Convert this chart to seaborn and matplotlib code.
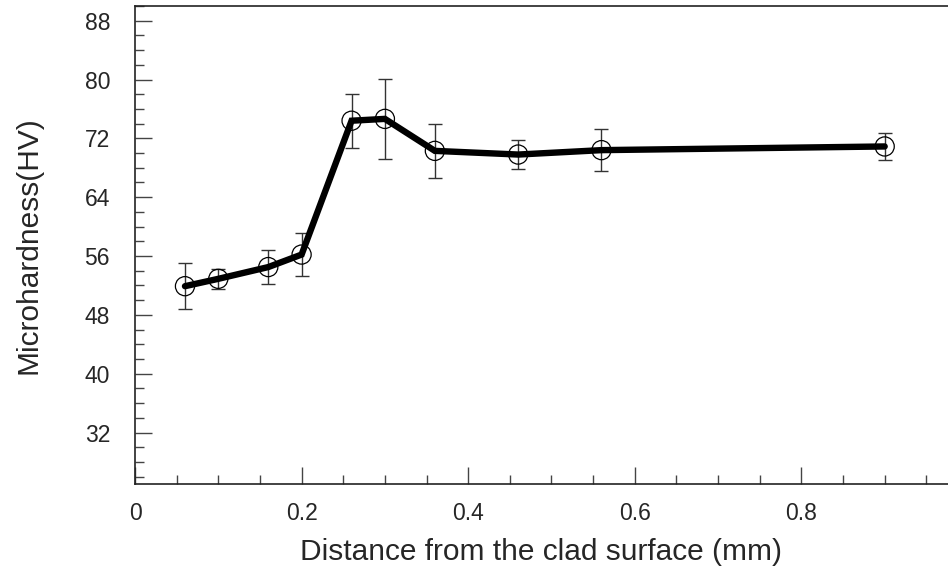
import matplotlib
matplotlib.use("Agg")
import matplotlib.pyplot as plt
import seaborn as sns
import pandas as pd
from matplotlib.ticker import MultipleLocator

distance = [0.06, 0.10, 0.16, 0.20, 0.26, 0.30, 0.36, 0.46, 0.56, 0.90]
hardness = [51.9, 52.9, 54.5, 56.2, 74.4, 74.65, 70.3, 69.8, 70.4, 70.9]
err = [3.15, 1.4, 2.3, 2.9, 3.7, 5.4, 3.7, 2.0, 2.85, 1.8]

x_ticks = [0, 0.2, 0.4, 0.6, 0.8]
x_ticklabels = ["0", "0.2", "0.4", "0.6", "0.8"]
y_ticks = [32, 40, 48, 56, 64, 72, 80, 88]
y_ticklabels = ["32", "40", "48", "56", "64", "72", "80", "88"]

df = pd.DataFrame({"distance": distance, "hardness": hardness, "err": err})

sns.set_style("white")
plt.rcParams["font.family"] = ["Liberation Sans", "DejaVu Sans"]

fig = plt.figure(figsize=(9.48, 5.69), dpi=100)
ax = fig.add_axes([135 / 948, 1 - 484 / 569, 1 - 135 / 948, (484 - 6) / 569])

ax.errorbar(df["distance"], df["hardness"], yerr=df["err"], fmt="none",
            ecolor="#333333", elinewidth=1.0, capsize=5, capthick=1.0, zorder=2)
sns.lineplot(data=df, x="distance", y="hardness", ax=ax, color="black",
             linewidth=4.6, zorder=3, solid_joinstyle="miter")
sns.scatterplot(data=df, x="distance", y="hardness", ax=ax, s=190,
                facecolor="none", edgecolor="black", linewidth=0.9, zorder=4)

ax.set_xlim(0, 0.976)
ax.set_ylim(25, 90)
ax.set_xticks(x_ticks)
ax.set_xticklabels(x_ticklabels)
ax.set_yticks(y_ticks)
ax.set_yticklabels(y_ticklabels)
ax.xaxis.set_minor_locator(MultipleLocator(0.05))
ax.yaxis.set_minor_locator(MultipleLocator(2))

ax.tick_params(axis="both", which="major", direction="in", length=12, width=1.0,
               color="#444444", labelsize=16.5)
ax.tick_params(axis="both", which="minor", direction="in", length=6.5, width=1.0,
               color="#444444")
ax.tick_params(axis="x", which="both", bottom=True, top=False, pad=13)
ax.tick_params(axis="y", which="both", left=True, right=False, pad=18)

for side in ["left", "bottom", "top"]:
    ax.spines[side].set_color("#222222")
    ax.spines[side].set_linewidth(1.2)
ax.spines["right"].set_visible(False)

ax.set_xlabel("Distance from the clad surface (mm)", fontsize=21.5, labelpad=9)
ax.set_ylabel("Microhardness(HV)", fontsize=21.5, labelpad=30)

fig.savefig("out.png", dpi=100)
